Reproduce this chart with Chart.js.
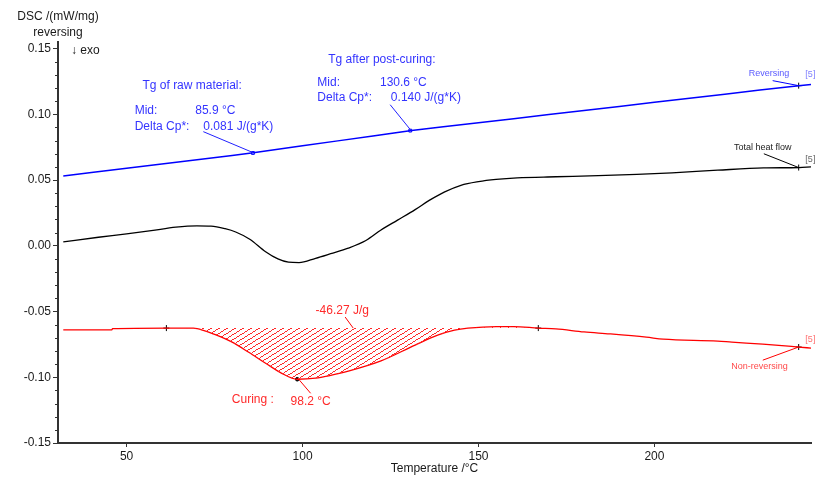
<!DOCTYPE html>
<html>
<head>
<meta charset="utf-8">
<script src="https://cdn.jsdelivr.net/npm/chart.js@4.4.1/dist/chart.umd.min.js"></script>
<style>
  html, body { margin: 0; padding: 0; background: #fff; }
  #wrap { position: relative; width: 815px; height: 477px; }
</style>
</head>
<body>
<div id="wrap"><canvas id="dscChart"></canvas></div>
<script>
// ─── Data ─────────────────────────────────────────────────
// reversing heat flow (blue)
const revT = [32, 40, 50, 60, 70, 80, 86, 90, 100, 110, 120, 126, 131, 140, 150, 160, 170, 180, 190, 200, 210, 220, 230, 241, 244.5];
const revV = [0.0531, 0.0557, 0.0590, 0.0622, 0.0655, 0.0687, 0.0707, 0.0722, 0.0760, 0.0798, 0.0835, 0.0858, 0.0877, 0.0905, 0.0936, 0.0967, 0.0998, 0.1029, 0.1060, 0.1091, 0.1122, 0.1153, 0.1184, 0.1218, 0.1227];

// total heat flow (black)
const totT = [32, 42, 50, 57, 64, 70, 74, 78, 81, 85, 89.5, 93, 96, 99, 103.7, 108, 113, 118, 122.3, 127, 132, 136, 140.4, 145, 150, 155, 161, 172, 184, 195, 205, 218, 231, 241, 244.5];
const totV = [0.0030, 0.0065, 0.0090, 0.0115, 0.0142, 0.0152, 0.0150, 0.0130, 0.0105, 0.0050, -0.0045, -0.0100, -0.0125, -0.0128, -0.0095, -0.0060, -0.0018, 0.0040, 0.0120, 0.0195, 0.0275, 0.0345, 0.0410, 0.0460, 0.0488, 0.0505, 0.0517, 0.0525, 0.0533, 0.0543, 0.0555, 0.0575, 0.0592, 0.0595, 0.0600];

// non-reversing heat flow (red)
const nonT = [32, 45.8, 46, 61.3, 69, 72, 75.4, 80, 84.7, 89.5, 94.1, 98.5, 103.7, 108, 113, 122.3, 132, 138.4, 143.2, 147, 155, 160, 167, 172, 180, 187.3, 197.7, 202.5, 218, 222, 230.8, 241, 244.5];
const nonV = [-0.0640, -0.0640, -0.0630, -0.0626, -0.0627, -0.0645, -0.0678, -0.0733, -0.0810, -0.0893, -0.0970, -0.1015, -0.1007, -0.0985, -0.0953, -0.0875, -0.0755, -0.0680, -0.0642, -0.0627, -0.0615, -0.0615, -0.0626, -0.0632, -0.0655, -0.0670, -0.0695, -0.0710, -0.0725, -0.0733, -0.0748, -0.0770, -0.0778];

// curing peak integration
const curingStart = 61.3, curingEnd = 167, curingBase = -0.0626;
const peakT = [98.5], peakV = [-0.1015];
const limitT = [curingStart, curingEnd], limitV = [curingBase, curingBase];

// Tg midpoints on the reversing curve
const tgT = [85.9, 130.6], tgV = [0.0706, 0.0876];

// curve-end markers (reversing, total, non-reversing)
const endT = [241, 241, 241], endV = [0.1218, 0.0595, -0.0770];

const X_MIN = 30.5, X_MAX = 244.5, Y_MIN = -0.15, Y_MAX = 0.155;

const FONT = "'Liberation Sans', Arial, sans-serif";
const BLUE = '#0000ff', RED = '#ff0000', BLACK = '#000000';

// ─── Helpers ──────────────────────────────────────────────
const pts = (xs, ys) => xs.map((x, i) => ({ x, y: ys[i] }));
const isMajor = v => Math.abs(Math.round(v * 100)) % 5 === 0;

// shallow "/" hatch (pixel staircase so it tiles cleanly)
function hatch(color, w, h) {
  const c = document.createElement('canvas');
  c.width = w; c.height = h;
  const g = c.getContext('2d');
  g.fillStyle = color;
  for (let i = 0; i < w; i++) g.fillRect(i, h - 1 - Math.floor(i * h / w), 1, 1);
  return g.createPattern(c, 'repeat');
}

// annotation texts, placed in data coordinates
const notes = [
  { t: 'Tg of raw material:',   x: 54.5,  y: 0.1218,  c: '#3434ff', s: 12 },
  { t: 'Mid:',                  x: 52.3,  y: 0.1028,  c: '#3434ff', s: 12 },
  { t: '85.9 °C',               x: 69.5,  y: 0.1028,  c: '#3434ff', s: 12 },
  { t: 'Delta Cp*:',            x: 52.3,  y: 0.0906,  c: '#3434ff', s: 12 },
  { t: '0.081 J/(g*K)',         x: 71.8,  y: 0.0906,  c: '#3434ff', s: 12 },
  { t: 'Tg after post-curing:', x: 107.3, y: 0.1416,  c: '#3434ff', s: 12 },
  { t: 'Mid:',                  x: 104.2, y: 0.1241,  c: '#3434ff', s: 12 },
  { t: '130.6 °C',              x: 122.0, y: 0.1241,  c: '#3434ff', s: 12 },
  { t: 'Delta Cp*:',            x: 104.2, y: 0.1127,  c: '#3434ff', s: 12 },
  { t: '0.140 J/(g*K)',         x: 125.1, y: 0.1127,  c: '#3434ff', s: 12 },
  { t: '-46.27 J/g',            x: 103.7, y: -0.0496, c: '#ff2a2a', s: 12 },
  { t: 'Curing :',              x: 79.9,  y: -0.1167, c: '#ff2a2a', s: 12 },
  { t: '98.2 °C',               x: 96.6,  y: -0.1182, c: '#ff2a2a', s: 12 },
  { t: 'Reversing',             x: 226.8, y: 0.1310,  c: '#5a5aff', s: 9 },
  { t: 'Total heat flow',       x: 222.6, y: 0.0746,  c: '#222222', s: 9 },
  { t: 'Non-reversing',         x: 221.8, y: -0.0916, c: '#ff4a4a', s: 9 },
  { t: '[5]',                   x: 242.9, y: 0.1300,  c: '#8080ff', s: 9 },
  { t: '[5]',                   x: 242.9, y: 0.0654,  c: '#666666', s: 9 },
  { t: '[5]',                   x: 242.9, y: -0.0710, c: '#ff7070', s: 9 },
];
const leaders = [
  { a: [71.8, 0.0868],   b: [86.0, 0.0708],   c: '#2020ff' },
  { a: [124.9, 0.1073],  b: [130.8, 0.0878],  c: '#2020ff' },
  { a: [112.1, -0.0542], b: [114.4, -0.0626], c: RED },
  { a: [98.9, -0.1015],  b: [102.3, -0.1122], c: RED },
  { a: [233.6, 0.1256],  b: [241, 0.1218],    c: BLUE },
  { a: [231.1, 0.0700],  b: [241, 0.0595],    c: BLACK },
  { a: [230.8, -0.0870], b: [241, -0.0770],   c: RED },
];

// ─── Plugin: notes, leader lines, minor ticks, y title ───
const dscDecor = {
  id: 'dscDecor',
  afterDatasetsDraw(chart) {
    const { ctx, scales: { x, y } } = chart;
    ctx.save();
    ctx.lineWidth = 1;
    leaders.forEach(l => {
      ctx.strokeStyle = l.c;
      ctx.beginPath();
      ctx.moveTo(x.getPixelForValue(l.a[0]), y.getPixelForValue(l.a[1]));
      ctx.lineTo(x.getPixelForValue(l.b[0]), y.getPixelForValue(l.b[1]));
      ctx.stroke();
    });
    ctx.textBaseline = 'middle';
    ctx.textAlign = 'left';
    notes.forEach(n => {
      ctx.fillStyle = n.c;
      ctx.font = `${n.s}px ${FONT}`;
      ctx.fillText(n.t, x.getPixelForValue(n.x), y.getPixelForValue(n.y));
    });
    ctx.restore();
  },
  afterDraw(chart) {
    const { ctx, scales: { y } } = chart;
    ctx.save();
    // minor ticks
    ctx.strokeStyle = '#333'; ctx.lineWidth = 1;
    y.ticks.forEach(t => {
      if (isMajor(t.value)) return;
      const py = Math.round(y.getPixelForValue(t.value)) + 0.5;
      ctx.beginPath(); ctx.moveTo(y.right - 3, py); ctx.lineTo(y.right, py); ctx.stroke();
    });
    // y axis title (horizontal, above the axis)
    ctx.fillStyle = '#1a1a1a';
    ctx.font = `12px ${FONT}`;
    ctx.textBaseline = 'middle';
    ctx.textAlign = 'center';
    ctx.fillText('DSC /(mW/mg)', y.right, 17);
    ctx.fillText('reversing', y.right, 33);
    ctx.textAlign = 'left';
    ctx.fillText('↓ exo', y.right + 13, y.getPixelForValue(0.15) + 2);
    ctx.restore();
  }
};

// ─── Chart ────────────────────────────────────────────────
const lineBase = { pointRadius: 0, fill: false, cubicInterpolationMode: 'monotone', borderWidth: 1.5 };
const markBase = { showLine: false, borderWidth: 1, pointHoverRadius: 0 };

new Chart(document.getElementById('dscChart'), {
  type: 'line',
  data: {
    datasets: [
      { ...lineBase, label: 'curing area', borderWidth: 0, borderColor: 'rgba(0,0,0,0)',
        data: pts(nonT, nonV).filter(p => p.x >= curingStart && p.x <= curingEnd),
        fill: { value: curingBase }, backgroundColor: hatch('#ff2a2a', 8, 5) },
      { ...lineBase, label: 'Reversing', data: pts(revT, revV), borderColor: BLUE, cubicInterpolationMode: 'default', tension: 0 },
      { ...lineBase, label: 'Total heat flow', data: pts(totT, totV), borderColor: BLACK, borderWidth: 1.3 },
      { ...lineBase, label: 'Non-reversing', data: pts(nonT, nonV), borderColor: RED, borderWidth: 1.3 },
      { ...markBase, label: 'limits', data: pts(limitT, limitV), pointStyle: 'cross', pointRadius: 3, borderColor: BLACK },
      { ...markBase, label: 'ends', data: pts(endT, endV), pointStyle: 'cross', pointRadius: 3, borderColor: BLACK },
      { ...markBase, label: 'peak', data: pts(peakT, peakV), pointStyle: 'circle', pointRadius: 1.8, borderColor: BLACK, backgroundColor: BLACK },
      { ...markBase, label: 'Tg', data: pts(tgT, tgV), pointStyle: 'rect', pointRadius: 2, borderColor: BLUE, backgroundColor: 'rgba(0,0,0,0)' },
    ],
  },
  options: {
    responsive: true, maintainAspectRatio: false, animation: false,
    layout: { padding: { top: 42, left: 0, right: 0, bottom: 0 } },
    plugins: { legend: { display: false }, tooltip: { enabled: false } },
    scales: {
      x: {
        type: 'linear', min: X_MIN, max: X_MAX,
        afterFit: s => { s.height = 34; },
        border: { color: '#333', width: 2 },
        grid: { drawOnChartArea: false, tickLength: 4, tickColor: '#333' },
        ticks: { stepSize: 50, includeBounds: false, autoSkip: false, maxRotation: 0, padding: 2,
                 color: '#1a1a1a', font: { family: FONT, size: 12 } },
        title: { display: true, text: 'Temperature /°C', color: '#1a1a1a',
                 font: { family: FONT, size: 12 }, padding: { top: 0, bottom: 1 } },
      },
      y: {
        min: Y_MIN, max: Y_MAX,
        afterFit: s => { s.width = 58; },
        border: { color: '#333', width: 2 },
        grid: { drawOnChartArea: false, tickLength: 5,
                tickColor: c => isMajor(c.tick.value) ? '#333' : 'rgba(0,0,0,0)' },
        ticks: { stepSize: 0.01, includeBounds: false, autoSkip: false, maxTicksLimit: 100, padding: 2,
                 color: '#1a1a1a', font: { family: FONT, size: 12 },
                 callback: v => isMajor(v) ? v.toFixed(2) : '' },
      },
    },
  },
  plugins: [dscDecor],
});
</script>
</body>
</html>
